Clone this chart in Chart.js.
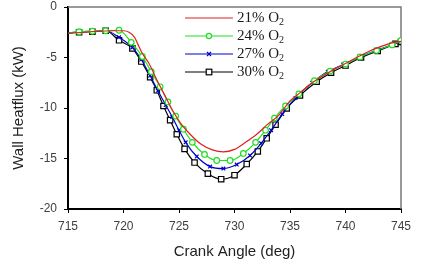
<!DOCTYPE html>
<html lang="en">
<head>
  <meta charset="UTF-8">
  <title>Wall heatflux vs crank angle</title>
  <style>
    html, body { margin: 0; padding: 0; background: #fff; }
    #wrap { width: 425px; height: 264px; }
  </style>
</head>
<body>
  <div id="wrap"><canvas id="chart-canvas"></canvas></div>

  <script src="https://cdn.jsdelivr.net/npm/chart.js@4.4.8/dist/chart.umd.min.js"></script>
  <script>
    // data
    const seriesNames = ['21% O', '24% O', '27% O', '30% O'];

    const angle21 = [715, 717, 719, 720, 720.5, 721, 721.3, 721.7, 722.3, 723, 723.7, 724.5, 725.2, 726, 727, 728, 729, 730, 731, 732, 733, 734, 735, 736, 737, 738, 739, 740, 741, 742, 743, 744, 745];
    const heat21 = [-2.6, -2.45, -2.35, -2.35, -2.5, -3.0, -3.7, -4.6, -5.6, -7.2, -8.7, -10.4, -11.6, -12.6, -13.6, -14.15, -14.35, -14.1, -13.4, -12.6, -11.6, -10.7, -9.3, -8.4, -7.5, -6.8, -6.15, -5.6, -5.0, -4.45, -4.0, -3.6, -3.4];

    const angle24 = [715, 716.0, 717.2, 718.4, 719.6, 720.7, 721.7, 722.5, 723.3, 724.0, 724.7, 725.4, 726.2, 727.3, 728.4, 729.6, 730.8, 731.9, 732.8, 733.6, 734.6, 735.8, 737.2, 738.6, 740.0, 741.3, 742.8, 744.2, 745];
    const heat24 = [-2.6, -2.45, -2.4, -2.35, -2.3, -3.5, -4.9, -6.4, -7.9, -9.4, -10.8, -12.1, -13.4, -14.6, -15.2, -15.2, -14.5, -13.4, -12.2, -11.0, -9.8, -8.6, -7.3, -6.35, -5.65, -4.95, -4.3, -3.75, -3.3];

    const angle27 = [715, 716.0, 717.2, 718.4, 719.6, 720.8, 721.6, 722.4, 723.1, 723.8, 724.4, 725.0, 725.6, 726.6, 727.8, 729.0, 730.2, 731.4, 732.4, 733.3, 734.3, 735.5, 737.0, 738.4, 739.8, 741.3, 742.8, 744.3, 745];
    const heat27 = [-2.6, -2.45, -2.4, -2.35, -3.0, -4.0, -5.2, -6.8, -8.3, -9.7, -10.9, -12.2, -13.4, -14.8, -15.8, -16.0, -15.6, -14.7, -13.5, -12.2, -10.6, -9.0, -7.5, -6.4, -5.7, -4.95, -4.3, -3.7, -3.4];

    const angle30 = [715, 716.0, 717.2, 718.4, 719.6, 720.8, 721.6, 722.4, 723.0, 723.6, 724.2, 724.8, 725.5, 726.4, 727.6, 728.8, 730.0, 731.1, 732.1, 732.9, 733.7, 734.7, 735.9, 737.4, 738.7, 740.0, 741.4, 742.9, 744.5, 745];
    const heat30 = [-2.6, -2.5, -2.45, -2.35, -3.3, -4.1, -5.4, -6.95, -8.25, -9.8, -11.2, -12.6, -14.05, -15.4, -16.5, -17.05, -16.65, -15.55, -14.3, -13.0, -11.65, -10.05, -8.75, -7.4, -6.5, -5.8, -5.0, -4.35, -3.65, -3.45];

    const xTicks = [715, 720, 725, 730, 735, 740, 745];
    const yTicks = [0, -5, -10, -15, -20];

    function toPoints(xs, ys) {
      return xs.map((x, i) => ({ x: x, y: ys[i] }));
    }

    // hide marker on the first point, it sits on the axis
    function markerSize(r) {
      return ctx => (ctx.dataIndex === 0 ? 0 : r);
    }

    function makeSet(label, xs, ys, color, style, r) {
      return {
        label: label,
        data: toPoints(xs, ys),
        borderColor: color,
        backgroundColor: '#fff',
        borderWidth: 1.2,
        pointStyle: style,
        pointRadius: style ? markerSize(r) : 0,
        pointBorderColor: color,
        pointBackgroundColor: '#fff',
        pointBorderWidth: 1.2,
        cubicInterpolationMode: 'monotone',
        fill: false
      };
    }

    // legend drawn inside the plot, with subscript 2
    const insideLegend = {
      id: 'insideLegend',
      afterDatasetsDraw(chart) {
        const ctx = chart.ctx;
        const rows = [18, 36, 54, 72];
        ctx.save();
        chart.data.datasets.forEach((ds, i) => {
          const y = rows[i];
          ctx.strokeStyle = ds.borderColor;
          ctx.lineWidth = 1.2;
          ctx.beginPath();
          ctx.moveTo(185, y);
          ctx.lineTo(233, y);
          ctx.stroke();
          const cx = 209;
          ctx.fillStyle = '#fff';
          if (ds.pointStyle === 'circle') {
            ctx.beginPath();
            ctx.arc(cx, y, 2.6, 0, Math.PI * 2);
            ctx.fill();
            ctx.stroke();
          } else if (ds.pointStyle === 'crossRot') {
            ctx.beginPath();
            ctx.moveTo(cx - 2, y - 2); ctx.lineTo(cx + 2, y + 2);
            ctx.moveTo(cx - 2, y + 2); ctx.lineTo(cx + 2, y - 2);
            ctx.stroke();
          } else if (ds.pointStyle === 'rect') {
            ctx.fillRect(cx - 2.8, y - 2.8, 5.6, 5.6);
            ctx.strokeRect(cx - 2.8, y - 2.8, 5.6, 5.6);
          }
          ctx.fillStyle = '#1a1a1a';
          ctx.textBaseline = 'middle';
          ctx.textAlign = 'left';
          ctx.font = '15px "Liberation Serif", serif';
          ctx.fillText(ds.label, 237, y);
          const w = ctx.measureText(ds.label).width;
          ctx.font = '10px "Liberation Serif", serif';
          ctx.fillText('2', 237 + w, y + 4);
        });
        ctx.restore();
      }
    };

    // grey frame on top and right of the plot
    const frame = {
      id: 'frame',
      beforeDatasetsDraw(chart) {
        const a = chart.chartArea;
        const ctx = chart.ctx;
        ctx.save();
        ctx.strokeStyle = '#7a7a7a';
        ctx.lineWidth = 1.5;
        ctx.beginPath();
        ctx.moveTo(a.left, a.top);
        ctx.lineTo(a.right, a.top);
        ctx.lineTo(a.right, a.bottom);
        ctx.stroke();
        ctx.restore();
      }
    };

    const tickFont = { family: '"Liberation Sans", Arial, sans-serif', size: 12 };
    const titleFont = { family: '"Liberation Sans", Arial, sans-serif', size: 15 };

    const chart = new Chart(document.getElementById('chart-canvas').getContext('2d'), {
      type: 'line',
      data: {
        datasets: [
          makeSet(seriesNames[0], angle21, heat21, '#e02020', false, 0),
          makeSet(seriesNames[1], angle24, heat24, '#1ee01e', 'circle', 2.8),
          makeSet(seriesNames[2], angle27, heat27, '#0000c8', 'crossRot', 2.6),
          makeSet(seriesNames[3], angle30, heat30, '#000000', 'rect', 3.8)
        ]
      },
      options: {
        responsive: true,
        maintainAspectRatio: false,
        animation: false,
        layout: { padding: { top: 0, right: 24, left: 0, bottom: 0 } },
        plugins: {
          legend: { display: false },
          tooltip: { enabled: false }
        },
        scales: {
          x: {
            type: 'linear',
            min: 715,
            max: 745,
            afterBuildTicks: s => { s.ticks = xTicks.map(v => ({ value: v })); },
            afterFit: s => { s.height = 55; s.paddingLeft = 0; s.paddingRight = 0; },
            ticks: { font: tickFont, color: '#404040', padding: 6, maxRotation: 0 },
            grid: { drawOnChartArea: false, drawTicks: true, tickLength: 4, color: '#000' },
            border: { color: '#000', width: 2 },
            title: { display: true, text: 'Crank Angle (deg)', font: titleFont, color: '#222', padding: { top: 0, bottom: 3 } }
          },
          y: {
            min: -20,
            max: 0,
            afterBuildTicks: s => { s.ticks = yTicks.map(v => ({ value: v })); },
            afterFit: s => { s.width = 68; s.paddingTop = 7; s.paddingBottom = 0; },
            ticks: { font: tickFont, color: '#404040', padding: 7 },
            grid: { drawOnChartArea: false, drawTicks: true, tickLength: 4, color: '#000' },
            border: { color: '#000', width: 2 },
            title: { display: true, text: 'Wall Heatflux (kW)', font: titleFont, color: '#222', padding: { top: 10, bottom: 0 } }
          }
        }
      },
      plugins: [frame, insideLegend]
    });
  </script>
</body>
</html>
